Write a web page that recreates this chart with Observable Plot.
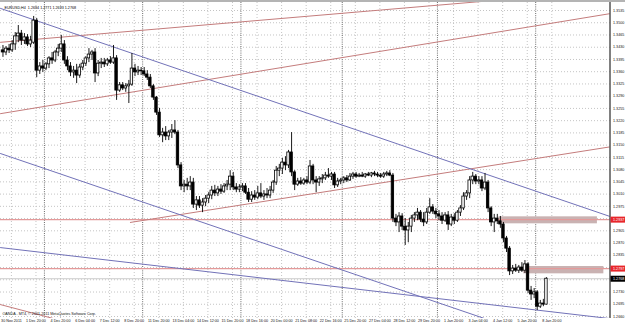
<!DOCTYPE html>
<html><head><meta charset="utf-8">
<script src="https://cdn.jsdelivr.net/npm/d3@7"></script>
<script src="https://cdn.jsdelivr.net/npm/@observablehq/plot@0.6"></script>
<style>html,body{margin:0;padding:0;background:#fff;}</style>
</head><body>
<div id="chart"></div>
<script>
const symbolName = "EURUSD,H4";
const copyright = "OANDA - MT4, © 2001-2011 MetaQuotes Software Corp.";

const open = [
1.3421,1.3415,1.3426,1.3421,1.3438,1.3461,1.3469,1.3449,1.3458,1.3438,
1.3443,1.3506,1.3363,1.3375,1.3369,1.3381,1.3398,1.3392,1.3415,1.3426,
1.3438,1.3392,1.3375,1.3358,1.3363,1.3349,1.3372,1.3383,1.3398,1.3409,
1.3415,1.3355,1.3383,1.3386,1.3381,1.3392,1.3386,1.3398,1.3306,1.3321,
1.3312,1.3318,1.3323,1.3369,1.3358,1.3363,1.3361,1.3352,1.3343,1.3318,
1.3286,1.3243,1.3178,1.3186,1.3175,1.3186,1.3192,1.3186,1.3092,1.3032,
1.3037,1.3032,1.3043,1.2980,1.2992,1.2977,1.2986,1.2997,1.3006,1.3020,
1.3012,1.3023,1.3017,1.3032,1.3037,1.3060,1.3029,1.3023,1.3029,1.3032,
1.3014,1.2994,1.3006,1.3000,1.3012,1.3003,1.3009,1.3006,1.3020,1.3043,
1.3077,1.3083,1.3100,1.3092,1.3129,1.3072,1.3037,1.3046,1.3040,1.3049,
1.3043,1.3089,1.3049,1.3043,1.3052,1.3055,1.3063,1.3060,1.3066,1.3035,
1.3046,1.3049,1.3055,1.3049,1.3060,1.3066,1.3060,1.3063,1.3060,1.3066,
1.3063,1.3069,1.3066,1.3063,1.3060,1.3066,1.3069,1.3063,1.2940,1.2929,
1.2946,1.2917,1.2906,1.2917,1.2940,1.2949,1.2957,1.2937,1.2929,1.2957,
1.2972,1.2960,1.2952,1.2946,1.2934,1.2949,1.2923,1.2943,1.2934,1.2957,
1.2969,1.3003,1.3012,1.3049,1.3060,1.3046,1.3049,1.3026,1.3043,1.2969,
1.2929,1.2940,1.2932,1.2923,1.2883,1.2854,1.2789,1.2797,1.2791,1.2800,
1.2791,1.2809,1.2734,1.2723,1.2729,1.2688,1.2697,1.2694];
const high = [
1.3435,1.3432,1.3438,1.3449,1.3472,1.3492,1.3478,1.3469,1.3466,1.3461,
1.3518,1.3512,1.3386,1.3392,1.3386,1.3403,1.3415,1.3421,1.3438,1.3464,
1.3449,1.3403,1.3386,1.3375,1.3381,1.3381,1.3392,1.3403,1.3426,1.3421,
1.3426,1.3392,1.3398,1.3398,1.3398,1.3403,1.3435,1.3406,1.3329,1.3329,
1.3326,1.3335,1.3412,1.3381,1.3375,1.3372,1.3372,1.3363,1.3352,1.3323,
1.3289,1.3255,1.3198,1.3203,1.3192,1.3209,1.3220,1.3192,1.3100,1.3049,
1.3055,1.3060,1.3055,1.3003,1.3003,1.2997,1.3006,1.3014,1.3032,1.3035,
1.3032,1.3037,1.3040,1.3049,1.3077,1.3072,1.3040,1.3037,1.3040,1.3040,
1.3026,1.3017,1.3020,1.3032,1.3040,1.3020,1.3026,1.3032,1.3049,1.3089,
1.3095,1.3112,1.3117,1.3135,1.3186,1.3077,1.3055,1.3057,1.3055,1.3060,
1.3106,1.3095,1.3060,1.3060,1.3066,1.3072,1.3083,1.3072,1.3072,1.3055,
1.3055,1.3060,1.3063,1.3069,1.3072,1.3072,1.3069,1.3072,1.3069,1.3072,
1.3072,1.3075,1.3072,1.3069,1.3072,1.3075,1.3077,1.3069,1.2952,1.2957,
1.2954,1.2940,1.2929,1.2949,1.2957,1.2969,1.2963,1.2957,1.2969,1.2997,
1.2980,1.2969,1.2963,1.2957,1.2957,1.2960,1.2952,1.2954,1.2963,1.2977,
1.3014,1.3020,1.3060,1.3072,1.3066,1.3060,1.3060,1.3069,1.3049,1.2974,
1.2952,1.2952,1.2946,1.2929,1.2889,1.2860,1.2806,1.2809,1.2806,1.2814,
1.2820,1.2814,1.2746,1.2740,1.2734,1.2706,1.2709,1.2771];
const low = [
1.3401,1.3406,1.3412,1.3415,1.3421,1.3443,1.3435,1.3438,1.3432,1.3429,
1.3438,1.3343,1.3352,1.3358,1.3363,1.3369,1.3381,1.3386,1.3403,1.3415,
1.3381,1.3363,1.3346,1.3341,1.3326,1.3341,1.3363,1.3375,1.3386,1.3392,
1.3329,1.3346,1.3369,1.3372,1.3375,1.3381,1.3381,1.3278,1.3301,1.3306,
1.3301,1.3269,1.3318,1.3346,1.3349,1.3349,1.3346,1.3335,1.3312,1.3278,
1.3235,1.3172,1.3157,1.3163,1.3163,1.3169,1.3180,1.3083,1.3020,1.3014,
1.3020,1.3020,1.2969,1.2963,1.2969,1.2957,1.2974,1.2983,1.2994,1.3003,
1.3003,1.3009,1.3012,1.3020,1.3020,1.3020,1.3014,1.3014,1.3017,1.3009,
1.2986,1.2986,1.2992,1.2994,1.2997,1.2992,1.2997,1.2997,1.3012,1.3035,
1.3060,1.3066,1.3077,1.3083,1.3060,1.3020,1.3032,1.3035,1.3035,1.3037,
1.3037,1.3037,1.3014,1.3032,1.3040,1.3049,1.3055,1.3049,1.3026,1.3029,
1.3037,1.3040,1.3043,1.3046,1.3052,1.3055,1.3057,1.3057,1.3055,1.3060,
1.3057,1.3060,1.3057,1.3055,1.3055,1.3060,1.3060,1.2929,1.2917,1.2900,
1.2906,1.2863,1.2871,1.2900,1.2929,1.2934,1.2929,1.2917,1.2923,1.2952,
1.2952,1.2940,1.2934,1.2923,1.2929,1.2906,1.2917,1.2923,1.2929,1.2946,
1.2963,1.2992,1.2997,1.3037,1.3037,1.3037,1.3017,1.3020,1.2957,1.2917,
1.2900,1.2923,1.2912,1.2871,1.2843,1.2777,1.2780,1.2786,1.2783,1.2786,
1.2783,1.2726,1.2706,1.2711,1.2677,1.2683,1.2688,1.2693];
const close = [
1.3415,1.3426,1.3421,1.3438,1.3461,1.3469,1.3449,1.3458,1.3438,1.3449,
1.3506,1.3363,1.3375,1.3369,1.3381,1.3398,1.3392,1.3415,1.3426,1.3438,
1.3392,1.3375,1.3358,1.3363,1.3349,1.3372,1.3383,1.3398,1.3409,1.3415,
1.3355,1.3383,1.3386,1.3381,1.3392,1.3386,1.3398,1.3306,1.3321,1.3312,
1.3318,1.3323,1.3369,1.3358,1.3363,1.3361,1.3352,1.3343,1.3318,1.3286,
1.3243,1.3178,1.3186,1.3175,1.3186,1.3192,1.3186,1.3092,1.3032,1.3037,
1.3032,1.3043,1.2980,1.2992,1.2977,1.2986,1.2997,1.3006,1.3020,1.3012,
1.3023,1.3017,1.3032,1.3037,1.3060,1.3029,1.3023,1.3029,1.3032,1.3014,
1.2994,1.3006,1.3000,1.3012,1.3003,1.3009,1.3006,1.3020,1.3043,1.3077,
1.3083,1.3100,1.3092,1.3129,1.3072,1.3037,1.3046,1.3040,1.3049,1.3043,
1.3089,1.3049,1.3043,1.3052,1.3055,1.3063,1.3060,1.3066,1.3035,1.3046,
1.3049,1.3055,1.3049,1.3060,1.3066,1.3060,1.3063,1.3060,1.3066,1.3063,
1.3069,1.3066,1.3063,1.3060,1.3066,1.3069,1.3063,1.2940,1.2929,1.2946,
1.2917,1.2906,1.2917,1.2940,1.2949,1.2957,1.2937,1.2929,1.2957,1.2972,
1.2960,1.2952,1.2946,1.2934,1.2949,1.2923,1.2943,1.2934,1.2957,1.2969,
1.3003,1.3012,1.3049,1.3060,1.3046,1.3049,1.3026,1.3043,1.2969,1.2929,
1.2940,1.2932,1.2923,1.2883,1.2854,1.2789,1.2797,1.2791,1.2800,1.2791,
1.2809,1.2734,1.2723,1.2729,1.2688,1.2697,1.2694,1.2768];

// time axis: label positions (bar index) and texts
const timeTickBars = [2.75,10.75,18.75,26.75,34.75,42.75,50.75,58.75,66.75,74.75,82.75,90.75,
  98.75,106.75,114.75,122.75,130.75,138.75,146.75,154.75,162.75,170.75,178.75];
const timeTickLabels = ["30 Nov 2011","1 Dec 20:00","4 Dec 20:00","6 Dec 04:00","7 Dec 12:00",
  "8 Dec 20:00","11 Dec 20:00","13 Dec 04:00","14 Dec 12:00","15 Dec 20:00","18 Dec 16:00",
  "20 Dec 00:00","21 Dec 08:00","22 Dec 16:00","25 Dec 20:00","27 Dec 04:00","28 Dec 12:00",
  "29 Dec 20:00","1 Jan 20:00","3 Jan 04:00","4 Jan 12:00","5 Jan 20:00","8 Jan 20:00"];
const weekSeparators = [13.5,45.5,77.5,110.5,141.5,173.5];
const priceTicks = [1.2660,1.2695,1.2730,1.2765,1.2800,1.2835,1.2870,1.2905,1.2940,1.2975,
  1.3010,1.3045,1.3080,1.3115,1.3150,1.3185,1.3220,1.3255,1.3290,1.3325,1.3360,1.3395,
  1.3430,1.3465,1.3500,1.3535];

// drawn objects: [bar1, price1, bar2, price2]
const redTrendLines = [[-0.8,1.3444,197.7,1.3592],[-0.8,1.3240,197.7,1.3526],
  [41.5,1.2929,197.7,1.3145],[-0.8,1.2694,20,1.2646]];
const blueTrendLines = [[-0.8,1.3541,197.7,1.2946],[-0.8,1.3126,197.7,1.2532],
  [-0.8,1.2857,197.7,1.2654]];
const levels = [1.2937, 1.2797];
// zones: [bar1, bar2, priceLow, priceHigh]
const zones = [[161.5,193.6,1.2925,1.2945],[169.6,195.7,1.2782,1.2803]];

const n = close.length;
const idx = d3.range(n);
const bid = close[n-1];
const header = `${symbolName}  ${open[n-1].toFixed(4)} ${high[n-1].toFixed(4)} ${low[n-1].toFixed(4)} ${close[n-1].toFixed(4)}`;
const seg = (arr) => arr.flatMap((s,k)=>[{x:s[0],y:s[1],k},{x:s[2],y:s[3],k}]);
const boxSymbol = {draw(ctx){ ctx.moveTo(-7.5,-3); ctx.lineTo(7.5,-3); ctx.lineTo(7.5,3); ctx.lineTo(-7.5,3); ctx.closePath(); }};
const fmt = d => d.toFixed(4);

const plot = Plot.plot({
  width: 625, height: 325,
  marginTop: 2, marginBottom: 7, marginLeft: 0, marginRight: 15.5,
  x: {domain: [-0.8, 197.7], range: [0, 609.5], axis: null},
  y: {domain: [1.2660, 1.3535], range: [316, 10], axis: null},
  style: {background: "linear-gradient(#b4b4b4 0 2px, #ffffff 2px)", fontFamily: "Liberation Sans", fontSize: "3.7px", color: "#111", overflow: "visible"},
  marks: [
    Plot.ruleY(priceTicks, {stroke: "#c4c4c4", strokeDasharray: "1,2"}),
    Plot.ruleX(timeTickBars, {stroke: "#c4c4c4", strokeDasharray: "1,2"}),
    Plot.ruleX(weekSeparators, {stroke: "#6a6a6a", strokeDasharray: "1,1.2"}),
    Plot.rect(zones, {x1: d=>d[0], x2: d=>d[1], y1: d=>d[2], y2: d=>d[3], fill: "#c9b2b2"}),
    Plot.ruleY(levels, {stroke: "#e49a9a", strokeWidth: 1.3}),
    Plot.ruleY([bid], {stroke: "#cccccc"}),
    Plot.line(seg(redTrendLines), {x: "x", y: "y", z: "k", stroke: "#c47c7c", strokeWidth: 1, clip: true}),
    Plot.line(seg(blueTrendLines), {x: "x", y: "y", z: "k", stroke: "#7272b8", strokeWidth: 1, clip: true}),
    Plot.ruleX(idx, {x: i=>i, y1: i=>low[i], y2: i=>high[i], stroke: "#000", strokeWidth: 0.9}),
    Plot.rect(idx, {x1: i=>i-0.4, x2: i=>i+0.4, y1: i=>open[i], y2: i=>close[i],
      fill: i => close[i] > open[i] ? "#ffffff" : "#000000", stroke: "#000", strokeWidth: 0.8}),
    Plot.ruleX([197.7], {stroke: "#000", strokeWidth: 1}),
    Plot.text(priceTicks, {y: d=>d, frameAnchor: "right", dx: 3, textAnchor: "start", text: fmt, fill: "#111"}),
    Plot.text(timeTickBars, {x: d=>d, frameAnchor: "bottom", dy: 3.8, text: (d,i)=>timeTickLabels[i], fill: "#111"}),
    Plot.dot(levels, {y: d=>d, frameAnchor: "right", dx: 8, symbol: boxSymbol, r: 3, fill: "#e8262b", stroke: "none"}),
    Plot.text(levels, {y: d=>d, frameAnchor: "right", dx: 3, textAnchor: "start", text: fmt, fill: "#fff"}),
    Plot.dot([bid], {y: d=>d, frameAnchor: "right", dx: 8, symbol: boxSymbol, r: 3, fill: "#000", stroke: "none"}),
    Plot.text([bid], {y: d=>d, frameAnchor: "right", dx: 3, textAnchor: "start", text: fmt, fill: "#fff"}),
    Plot.text([header], {frameAnchor: "top-left", dx: 4, dy: 3.5, textAnchor: "start", fill: "#000"}),
    Plot.text([copyright], {frameAnchor: "bottom-left", dx: 2, dy: -4, textAnchor: "start", fill: "#111"})
  ]
});
document.getElementById("chart").appendChild(plot);
</script>
</body></html>
